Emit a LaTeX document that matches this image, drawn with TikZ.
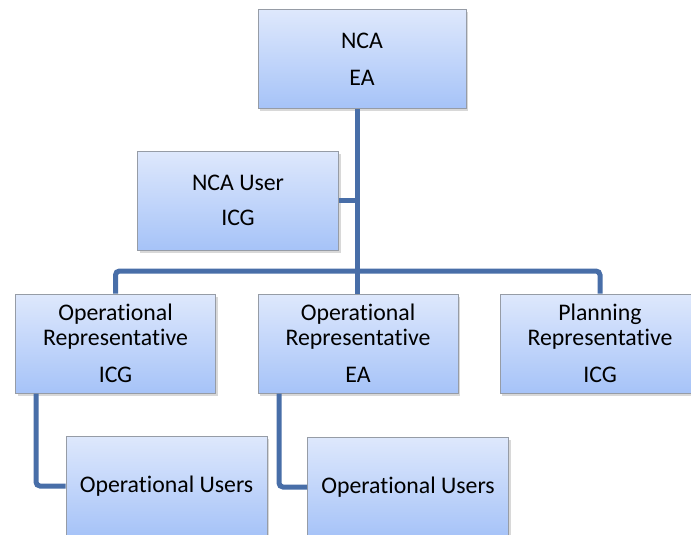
\documentclass[tikz,border=0pt]{standalone}
\usepackage{fontspec}
\setmainfont[RawFeature={-liga;-clig;-dlig;-calt}]{Carlito}
\usetikzlibrary{shadows}
\definecolor{boxtop}{RGB}{222,232,252}
\definecolor{boxbot}{RGB}{166,195,248}
\definecolor{boxline}{RGB}{150,156,166}
\definecolor{conn}{RGB}{72,110,168}
\tikzset{
  orgbox/.style={rectangle, draw=boxline, line width=1pt, top color=boxtop, bottom color=boxbot,
    minimum width=201pt, minimum height=99pt, inner sep=0pt, align=center,
    font=\fontsize{23.8}{25}\selectfont,
    drop shadow={shadow xshift=2pt, shadow yshift=-2.5pt, opacity=0.3, fill=black!50}},
  link/.style={draw=conn, line width=5pt, rounded corners=4pt}
}
\begin{document}
\begin{tikzpicture}[x=1pt,y=-1pt]
\useasboundingbox (0,0) rectangle (691,535);
\fill[white] (0,0) rectangle (691,535);
\node[orgbox, minimum width=208pt, minimum height=98pt] (nca) at (362,59) {NCA\\[12pt]EA};
\node[orgbox] (ncauser) at (238,200.5) {NCA User\\[10pt]ICG};
\node[orgbox, minimum width=200pt] (oprep1) at (115.5,343.5) {Operational\\Representative\\[12pt]ICG};
\node[orgbox, minimum width=200pt] (oprep2) at (358,343.5) {Operational\\Representative\\[12pt]EA};
\node[orgbox, minimum width=200pt] (plan) at (600,343.5) {Planning\\Representative\\[12pt]ICG};
\node[orgbox, minimum height=100pt] (opusers1) at (166.5,486) {Operational Users};
\node[orgbox, minimum height=100pt] (opusers2) at (408,487) {Operational Users};
\coordinate (t) at (357,271);
\coordinate (a) at (36,0);
\coordinate (b) at (279,0);
\draw[link] (nca.south -| t) -- (oprep2.north -| t);
\draw[link] (ncauser.east) -- (ncauser.east -| t);
\draw[link] (oprep1.north) -- (oprep1.north |- t) -- (plan.north |- t) -- (plan.north);
\draw[link] (oprep1.south -| a) -- (opusers1.west -| a) -- (opusers1.west);
\draw[link] (oprep2.south -| b) -- (opusers2.west -| b) -- (opusers2.west);
\end{tikzpicture}
\end{document}
